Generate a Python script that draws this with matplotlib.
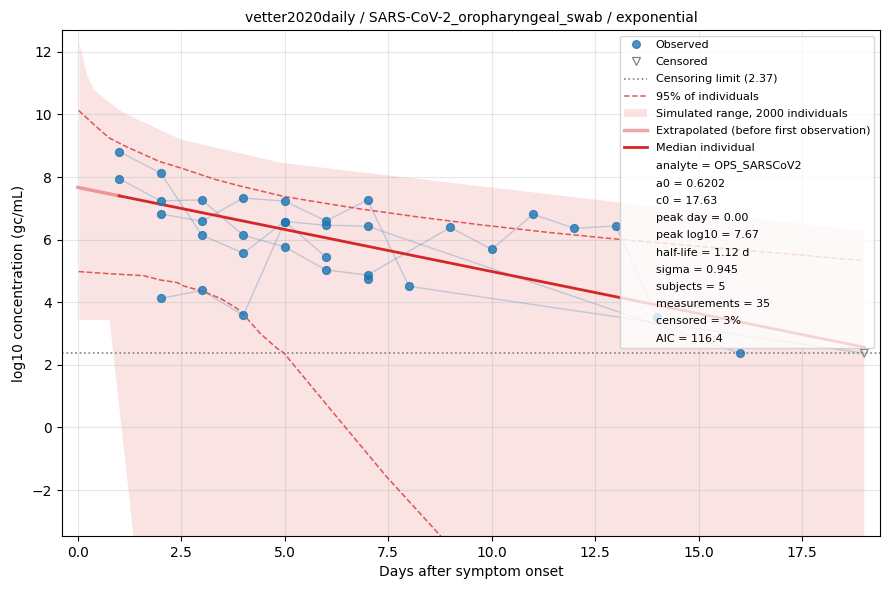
import matplotlib
matplotlib.use("Agg")
import matplotlib.pyplot as plt
from matplotlib.lines import Line2D
from matplotlib.patches import Patch
import numpy as np

# ---- data ----
subj_days = [
    [1, 2, 3, 4, 5, 6, 7, 16],
    [1, 2, 3, 4, 5, 6, 7, 9, 10, 11, 12, 13, 14],
    [2, 3, 4, 5, 6, 7, 8, 19],
    [2, 3, 4, 5, 6],
    [7],
]
subj_vals = [
    [8.81, 8.13, 6.14, 5.57, 6.58, 6.46, 6.43, 2.37],
    [7.95, 7.24, 7.27, 6.14, 5.77, 5.03, 4.87, 6.39, 5.69, 6.81, 6.36, 6.44, 3.53],
    [6.82, 6.59, 7.33, 7.23, 6.60, 7.27, 4.51, 2.37],
    [4.12, 4.38, 3.58, 6.58, 5.44],
    [4.73],
]
subj_cens = [
    [0, 0, 0, 0, 0, 0, 0, 0],
    [0] * 13,
    [0, 0, 0, 0, 0, 0, 0, 1],
    [0, 0, 0, 0, 0],
    [0],
]
cens_limit = 2.37

# median individual (exponential decay)
peak_log10 = 7.67
half_life = 1.12
first_obs = 1.0
t_end = 19.0

# simulated range (2000 individuals)
band_t = [0.04, 0.23, 0.40, 0.75, 0.77, 1.04, 1.35, 1.6, 2.49, 4.94, 19.0]
band_hi = [12.3, 11.23, 10.78, 10.4, 10.38, 10.11, 9.9, 9.75, 9.2, 8.45, 6.27]
band_lo = [3.43, 3.43, 3.43, 3.43, 3.43, 0.2, -3.5, -6.5, -20, -20, -20]

# 95% of individuals
q_t = [0.02, 0.44, 0.76, 1.16, 1.97, 2.49, 3.33, 3.97, 4.98, 6.03, 6.84, 8.14, 9.76, 11.38, 13.16, 19.0]
q_hi = [10.13, 9.62, 9.25, 8.98, 8.50, 8.29, 7.92, 7.70, 7.38, 7.15, 6.98, 6.74, 6.47, 6.23, 6.00, 5.33]
ql_t = [0.02, 0.79, 1.59, 2.0, 2.40, 2.56, 3.04, 3.45, 3.85, 4.09, 4.41, 4.82, 4.98, 5.46, 6.43, 7.47, 8.76, 10.0, 19.0]
q_lo = [4.98, 4.91, 4.85, 4.71, 4.63, 4.52, 4.34, 4.12, 3.80, 3.48, 3.0, 2.52, 2.38, 1.61, 0.06, -1.59, -3.46, -5.4, -19.0]

info_lines = [
    "analyte = OPS_SARSCoV2",
    "a0 = 0.6202",
    "c0 = 17.63",
    "peak day = 0.00",
    "peak log10 = 7.67",
    "half-life = 1.12 d",
    "sigma = 0.945",
    "subjects = 5",
    "measurements = 35",
    "censored = 3%",
    "AIC = 116.4",
]

RED = "#d62728"
BLUE = "#1f77b4"

fig, ax = plt.subplots(figsize=(8.9, 5.9), dpi=100)
fig.subplots_adjust(left=62/890, right=880/890, top=1-30/590, bottom=1-536/590)

ax.fill_between(band_t, band_lo, band_hi, color=RED, alpha=0.13, linewidth=0, zorder=1)
ax.plot(q_t, q_hi, "--", color=RED, alpha=0.75, lw=1.1, zorder=2)
ax.plot(ql_t, q_lo, "--", color=RED, alpha=0.75, lw=1.1, zorder=2)

k = np.log10(2) / half_life
t_ex = np.linspace(0, first_obs, 20)
t_md = np.linspace(first_obs, t_end, 200)
ax.plot(t_ex, peak_log10 - k * t_ex, color=RED, alpha=0.4, lw=2.5, zorder=3)
ax.plot(t_md, peak_log10 - k * t_md, color=RED, lw=2, zorder=4)

ax.axhline(cens_limit, color="gray", ls=":", lw=1.2, zorder=2)

for d, v, c in zip(subj_days, subj_vals, subj_cens):
    ax.plot(d, v, color="steelblue", alpha=0.3, lw=1.0, zorder=2.5)
    d = np.array(d); v = np.array(v); c = np.array(c, bool)
    ax.scatter(d[~c], v[~c], s=32, color=BLUE, alpha=0.8, zorder=5)
    if c.any():
        ax.scatter(d[c], v[c], s=30, marker="v", facecolors="none", edgecolors="gray",
                   linewidths=0.9, zorder=5)

ax.set_xlim(-0.38, 19.38)
ax.set_ylim(-3.47, 12.7)
ax.grid(True, alpha=0.3)
ax.set_xlabel("Days after symptom onset")
ax.set_ylabel("log10 concentration (gc/mL)")
ax.set_title("vetter2020daily / SARS-CoV-2_oropharyngeal_swab / exponential", fontsize=10)

handles = [
    Line2D([], [], marker="o", ls="none", color=BLUE, alpha=0.8, markersize=5.5),
    Line2D([], [], marker="v", ls="none", markerfacecolor="none", markeredgecolor="gray",
           markersize=6, markeredgewidth=0.9),
    Line2D([], [], color="gray", ls=":", lw=1.2),
    Line2D([], [], color=RED, ls="--", alpha=0.75, lw=1.1),
    Patch(facecolor=RED, alpha=0.13, linewidth=0),
    Line2D([], [], color=RED, alpha=0.4, lw=2.5),
    Line2D([], [], color=RED, lw=2),
] + [Line2D([], [], ls="none") for _ in info_lines]
labels = [
    "Observed",
    "Censored",
    f"Censoring limit ({cens_limit})",
    "95% of individuals",
    "Simulated range, 2000 individuals",
    "Extrapolated (before first observation)",
    "Median individual",
] + info_lines
ax.legend(handles, labels, loc="upper right", fontsize=8, framealpha=0.8, labelspacing=0.65)

fig.savefig("out.png", dpi=100)
